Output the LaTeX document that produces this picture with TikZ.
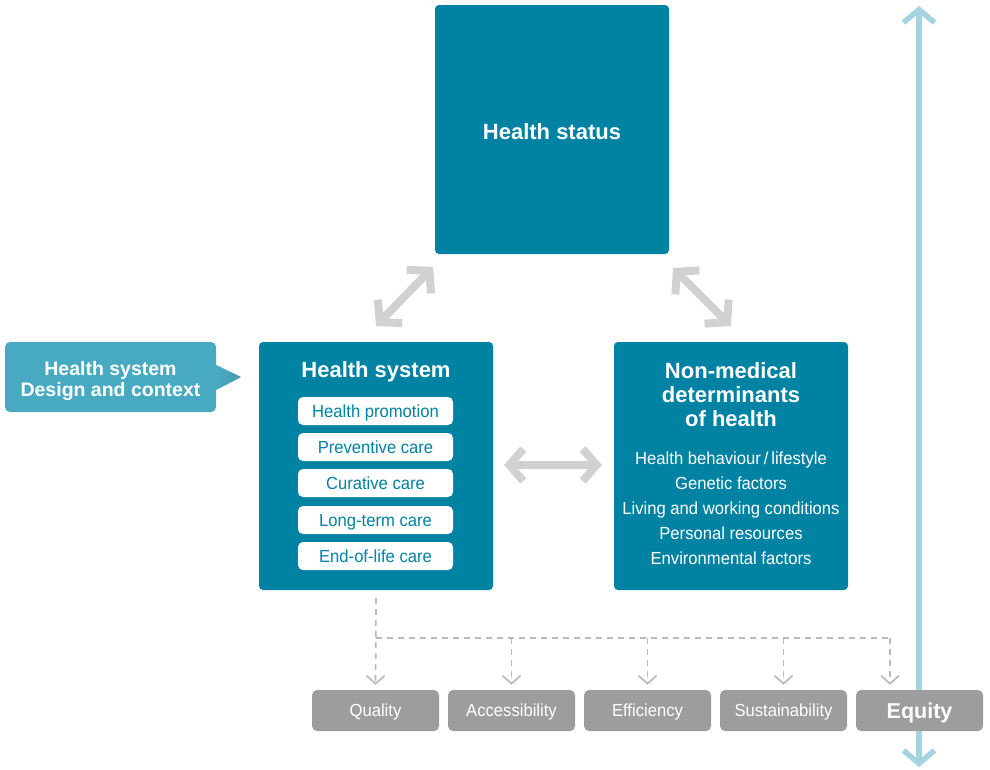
\documentclass[tikz,border=0pt]{standalone}
\usepackage{fontspec}
\setmainfont{Liberation Sans}
\newfontfamily\condfont[FakeStretch=0.95]{Liberation Sans}
\usetikzlibrary{arrows.meta}
\definecolor{darkteal}{RGB}{0,130,162}
\definecolor{lightteal}{RGB}{72,170,193}
\definecolor{arrowgray}{RGB}{208,209,211}
\definecolor{boxgray}{RGB}{157,157,159}
\definecolor{dashgray}{RGB}{185,185,185}
\definecolor{equityblue}{RGB}{166,211,224}

\begin{document}
\begin{tikzpicture}[x=1pt, y=-1pt,
        bigbox/.style={fill=darkteal, rounded corners=4pt, minimum width=234pt, minimum height=248pt, inner sep=0pt},
        boxtitle/.style={text=white, font=\fontsize{22}{24}\selectfont\bfseries, align=center},
        careitem/.style={fill=white, rounded corners=5pt, minimum width=155pt, minimum height=28pt, inner sep=0pt,
            text height=12.5pt, text depth=0pt, text=darkteal, font=\condfont\fontsize{17.5}{20}\selectfont},
        factors/.style={text=white, align=center, font=\condfont\fontsize{17.5}{25}\selectfont},
        goalbox/.style={fill=boxgray, rounded corners=5pt, minimum width=127pt, minimum height=41pt, inner sep=0pt,
            text height=12.5pt, text depth=0pt, text=white, font=\condfont\fontsize{17.5}{20}\selectfont},
        bigarrow/.style={draw=arrowgray, line width=8pt, {Straight Barb[length=15pt, width=34pt]}-{Straight Barb[length=15pt, width=34pt]}},
        dashline/.style={draw=dashgray, line width=1.7pt, dash pattern=on 6pt off 5pt},
        dasharrow/.style={dashline, -{Straight Barb[length=8pt, width=18pt]}, shorten >=5pt}]
        \useasboundingbox (0,0) rectangle (990,769);

        % equity axis, behind the goal boxes
        \coordinate (EqTop) at (919,6);
        \coordinate (EqBot) at (919,767);
        \draw[draw=equityblue, line width=5.5pt, {Straight Barb[length=13pt, width=31pt]}-{Straight Barb[length=13pt, width=31pt]}] (EqTop) -- (EqBot);

        % main boxes
        \node[bigbox, minimum height=249pt] (Status) at (552,129.5) {};
        \node[boxtitle] (StatusTitle) at (552,132) {Health status};
        \node[bigbox] (HSys) at (376,466) {};
        \node[boxtitle] (HSysTitle) at (376,372) {Health system};
        \node[bigbox] (NonMed) at (731,466) {};
        \node[boxtitle] (NonMedTitle) at (731,395) {Non-medical\\determinants\\of health};

        % health system services
        \node[careitem] (Promo) at (375.5,411) {Health promotion};
        \node[careitem] (Prev) at (375.5,447) {Preventive care};
        \node[careitem] (Cure) at (375.5,483) {Curative care};
        \node[careitem] (Long) at (375.5,520) {Long-term care};
        \node[careitem] (EoL) at (375.5,556) {End-of-life care};

        % determinants
        \node[factors] (Factors) at (731,508.5) {Health behaviour\,/\,lifestyle\\Genetic factors\\Living and working conditions\\Personal resources\\Environmental factors};

        % callout
        \node[fill=lightteal, rounded corners=5pt, minimum width=211pt, minimum height=70pt, inner sep=0pt] (Callout) at (110.5,377) {};
        \shade[left color=lightteal, right color=lightteal!75!darkteal!80!gray] ([yshift=12pt]Callout.east) -- ([xshift=25pt]Callout.east) -- ([yshift=-13pt]Callout.east) -- cycle;
        \node[text=white, align=center, font=\fontsize{19.5}{21}\selectfont\bfseries] (CalloutText) at (110.5,380.5) {Health system\\Design and context};

        % interactions
        \coordinate (A1) at (376,326);
        \coordinate (A2) at (433,267);
        \coordinate (B1) at (673,268);
        \coordinate (B2) at (731,326);
        \coordinate (C1) at (504,465);
        \coordinate (C2) at (602,465);
        \draw[bigarrow] (A1) -- (A2);
        \draw[bigarrow] (B1) -- (B2);
        \draw[bigarrow, {Straight Barb[length=14pt, width=32pt]}-{Straight Barb[length=14pt, width=32pt]}] (C1) -- (C2);

        % goals
        \node[goalbox] (Qual) at (375.5,710.5) {Quality};
        \node[goalbox] (Acc) at (511.5,710.5) {Accessibility};
        \node[goalbox] (Eff) at (647.5,710.5) {Efficiency};
        \node[goalbox] (Sust) at (783.5,710.5) {Sustainability};
        \node[goalbox, text height=15.4pt, font=\fontsize{21.5}{24}\selectfont\bfseries] (Eq) at (919.5,710.5) {Equity};

        % dashed links to the goals
        \coordinate (J) at (375.5,638);
        \coordinate (K) at (890,638);
        \draw[dasharrow] ([yshift=-8pt]HSys.south) -- (Qual.north);
        \draw[dashline] (J) -- (K);
        \draw[dasharrow] (J -| Acc.north) -- (Acc.north);
        \draw[dasharrow] (J -| Eff.north) -- (Eff.north);
        \draw[dasharrow] (J -| Sust.north) -- (Sust.north);
        \draw[dasharrow] (K) -- (K |- Eq.north);
    \end{tikzpicture}
\end{document}
